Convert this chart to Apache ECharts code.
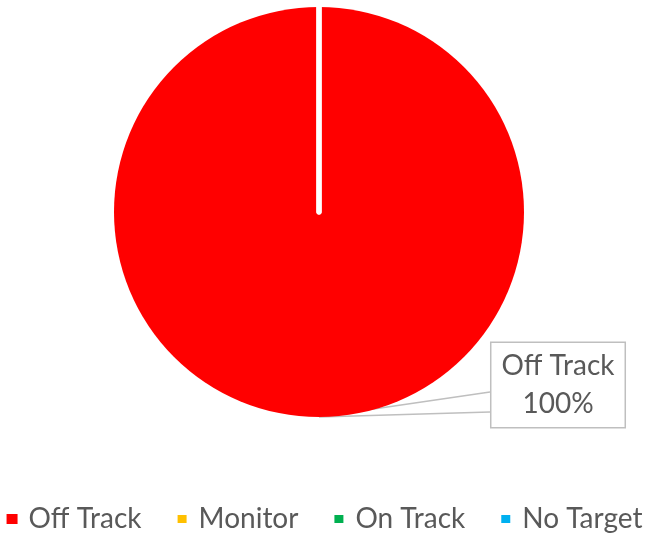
<!DOCTYPE html>
<html>
<head>
<meta charset="utf-8">
<style>
  html, body { margin: 0; padding: 0; background: #ffffff; }
  #chart { width: 649px; height: 540px; }
</style>
<script src="https://cdn.jsdelivr.net/npm/echarts@6/dist/echarts.min.js"></script>
</head>
<body>
<div id="chart"></div>
<script>
// Status breakdown
const categories = ['Off Track', 'Monitor', 'On Track', 'No Target'];
const counts = [100, 0, 0, 0];
const colors = ['#FF0000', '#FFC000', '#00B050', '#00B0F0'];

const FONT = 'Lato, "Open Sans", sans-serif';
const TEXT = '#595959';
const GUIDE = '#BFBFBF';

const chart = echarts.init(document.getElementById('chart'), null, { renderer: 'canvas' });

// Empty categories still get a zero-width slice; its white border draws the seam at 12 o'clock.
const pieData = categories.map((name, i) => {
  const empty = counts[i] === 0;
  return {
    name: name,
    value: counts[i],
    itemStyle: {
      color: colors[i],
      borderColor: '#ffffff',
      borderWidth: empty ? 5 : 0
    },
    label: { show: !empty },
    labelLine: { show: !empty }
  };
});

// Callout box placed to the lower right; the pointer is a wedge from the box's left edge
// to the bottom of the slice (the slice's mid angle).
function calloutLayout(params) {
  const cx = 558, cy = 385;
  const r = params.rect;          // bounding rect of the slice
  const w = params.labelRect.width;
  const left = cx - w / 2;
  const tip = [r.x + r.width / 2, r.y + r.height];
  return {
    x: cx,
    y: cy,
    align: 'center',
    verticalAlign: 'middle',
    labelLinePoints: [[left, cy + 7], tip, [left, cy + 27]]
  };
}

chart.setOption({
  animation: false,
  backgroundColor: '#ffffff',
  legend: {
    bottom: 2,
    left: 'center',
    icon: 'rect',
    itemWidth: 11,
    itemHeight: 10,
    itemGap: 34,
    textStyle: { fontFamily: FONT, fontSize: 28, color: TEXT, padding: [0, 0, 0, 6] },
    data: categories
  },
  series: [{
    type: 'pie',
    center: [319, 212],
    radius: 205,
    startAngle: 90,
    clockwise: true,
    silent: true,
    data: pieData,
    label: {
      position: 'outside',
      formatter: '{b}\n{d}%',
      fontFamily: FONT,
      fontSize: 28,
      color: TEXT,
      lineHeight: 38,
      align: 'center',
      backgroundColor: '#ffffff',
      borderColor: GUIDE,
      borderWidth: 1.5,
      padding: [4, 10]
    },
    labelLine: {
      show: true,
      lineStyle: { color: GUIDE, width: 1.5 }
    },
    labelLayout: calloutLayout
  }]
});
</script>
</body>
</html>
